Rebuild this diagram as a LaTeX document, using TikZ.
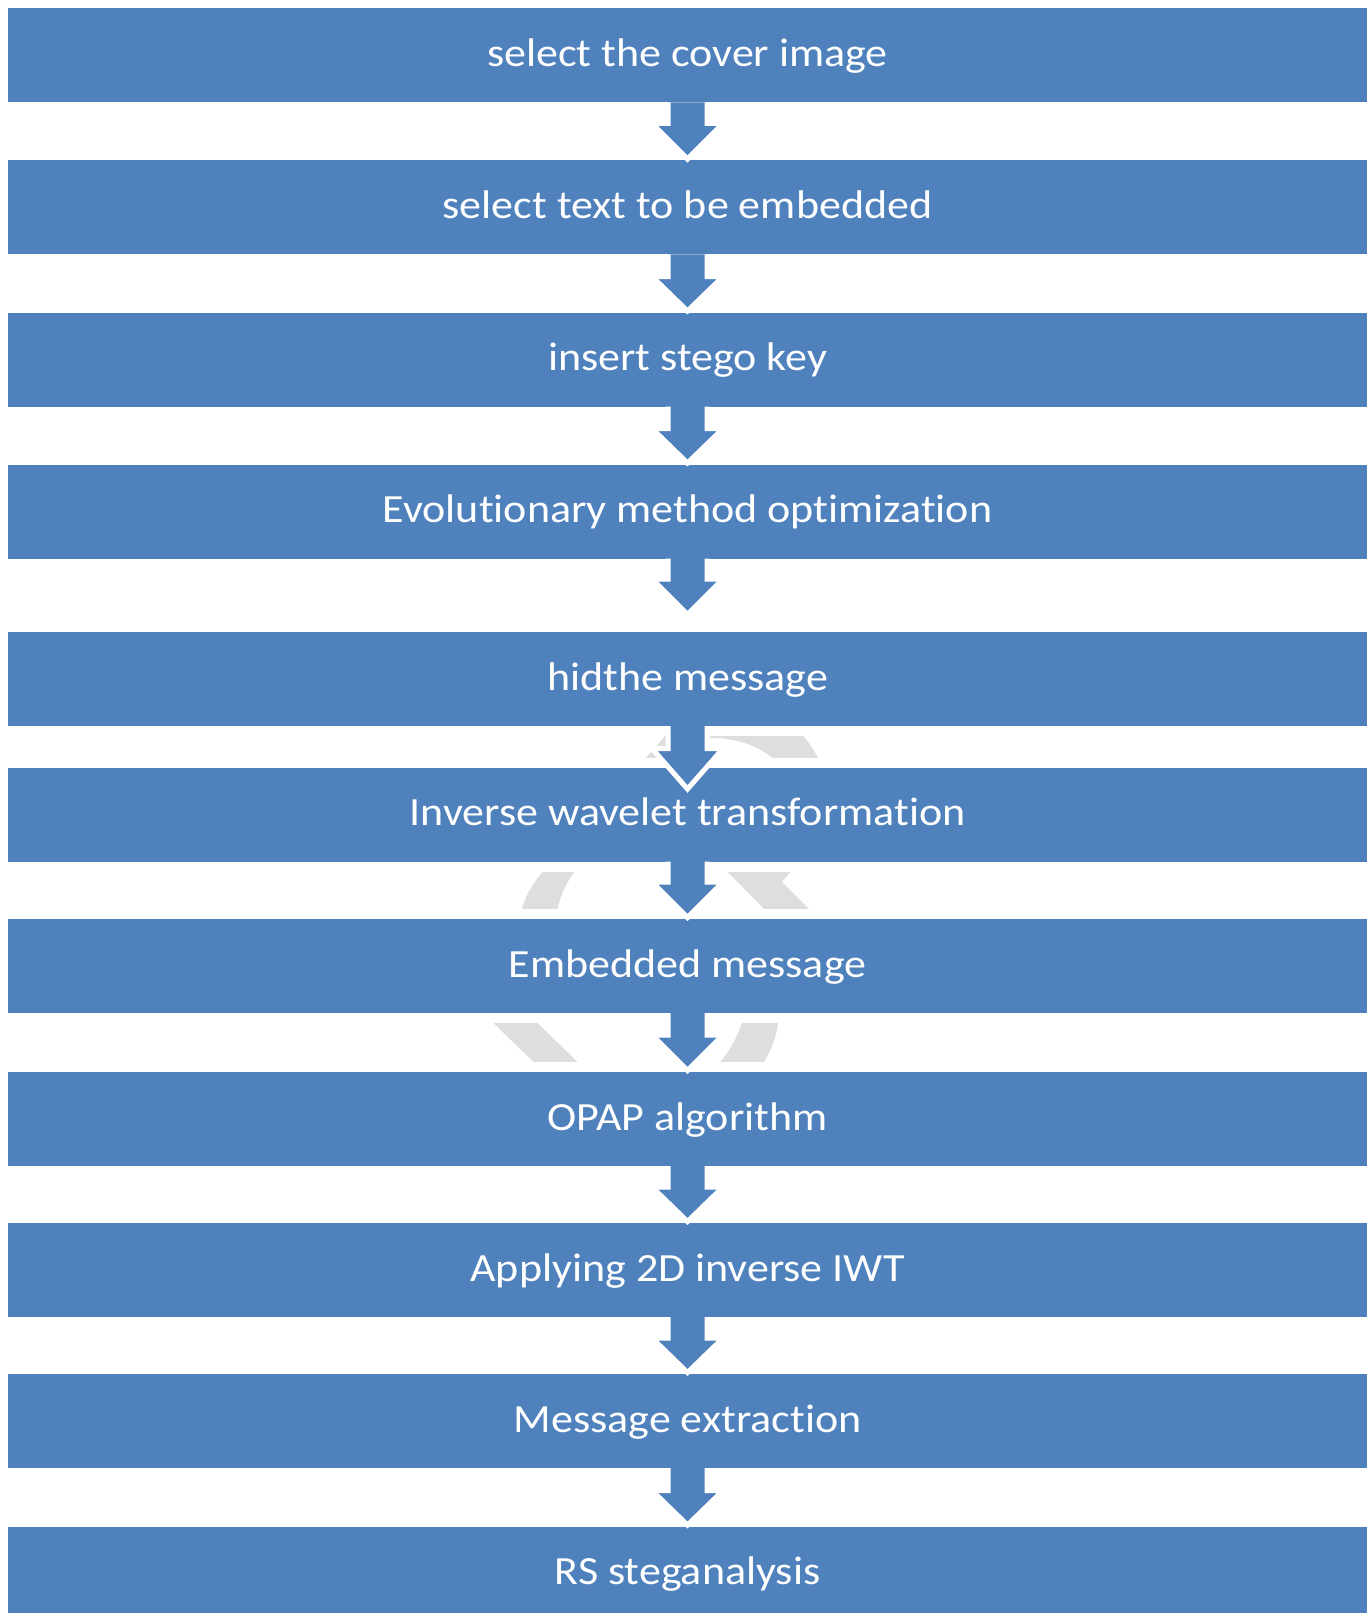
\documentclass[tikz,border=0pt]{standalone}
\usepackage{fontspec}
\newfontfamily\boxfont[FakeStretch=1.1,Ligatures=NoCommon]{Carlito}
\usetikzlibrary{calc}
\definecolor{boxblue}{RGB}{79,129,189}
\definecolor{ghost}{RGB}{222,222,222}
\tikzset{
  stepbox/.style={fill=boxblue, draw=white, line width=10pt, minimum width=1369pt,
    minimum height=104pt, inner sep=0pt, outer sep=0pt, text=white,
    font=\boxfont\fontsize{40}{48}\selectfont, text height=29pt, text depth=7pt},
  flowarr/.style={fill=boxblue, draw=white, line width=5pt, line join=miter},
  ghostshape/.style={fill=ghost, draw=none}
}
\newcommand\flowarrow[4]{%
  \filldraw[flowarr] let \p1=([yshift=5pt]#1.south), \p2=([yshift=#3]#2.north) in
  (\x1-19.5pt,\y1) -- (\x1-19.5pt,\y2+#4) -- (\x1-35.5pt,\y2+#4) -- (\x1,\y2)
  -- (\x1+35.5pt,\y2+#4) -- (\x1+19.5pt,\y2+#4) -- (\x1+19.5pt,\y1);
}
\begin{document}
\begin{tikzpicture}[x=1pt,y=-1pt]
\useasboundingbox (0,0) rectangle (1371,1613);
\fill[white] (0,0) rectangle (1371,1613);
% background cycle icon fragments
\fill[ghostshape] (638,767) -- (675,725) -- (690,725) -- (690,767) -- cycle;
\fill[ghostshape] (705,727) -- (795,727) .. controls (808,740) and (816,752) .. (822,767)
  -- (782,767) .. controls (765,748) and (740,738) .. (712,738) -- (705,738) -- cycle;
\fill[ghostshape] (557,858) .. controls (537,875) and (523,895) .. (519,922)
  -- (555,922) .. controls (558,898) and (568,875) .. (587,858) -- cycle;
\fill[ghostshape] (714,858) -- (802,858) -- (782,882) -- (822,922) -- (777,922) -- cycle;
\fill[ghostshape] (478,1008) -- (522,1008) -- (593,1077) -- (549,1077) -- cycle;
\fill[ghostshape] (779,1008) .. controls (779,1035) and (770,1058) .. (752,1077)
  -- (706,1077) .. controls (728,1057) and (740,1035) .. (746,1008) -- cycle;
\fill[ghostshape] (640,1172) .. controls (645,1177) and (652,1177) .. (656,1173)
  .. controls (651,1175) and (645,1175) .. (640,1172) -- cycle;
% boxes
\node[stepbox] (b1) at (687.5,55.5) {select the cover image};
\node[stepbox] (b2) at (687.5,207.5) {select text to be embedded};
\node[stepbox] (b3) at (687.5,359.5) {insert stego key};
\node[stepbox] (b4) at (687.5,511.5) {Evolutionary method optimization};
\node[stepbox] (b5) at (687.5,679) {hidthe message};
\node[stepbox] (b6) at (687.5,814.5) {Inverse wavelet transformation};
\node[stepbox] (b7) at (687.5,966) {Embedded message};
\node[stepbox] (b8) at (687.5,1119) {OPAP algorithm};
\node[stepbox] (b9) at (687.5,1270) {Applying 2D inverse IWT};
\node[stepbox] (b10) at (687.5,1421) {Message extraction};
\node[stepbox] (b11) at (687.5,1573.5) {RS steganalysis};
% arrows
\flowarrow{b1}{b2}{-3.5pt}{35.5pt}
\flowarrow{b2}{b3}{-3.5pt}{34.5pt}
\flowarrow{b3}{b4}{-3.5pt}{34.5pt}
\flowarrow{b4}{b5}{12.5pt}{35.5pt}
\flowarrow{b5}{b6}{-26.5pt}{40.5pt}
\flowarrow{b6}{b7}{-3.5pt}{35.5pt}
\flowarrow{b7}{b8}{-3.5pt}{35.5pt}
\flowarrow{b8}{b9}{-3.5pt}{34.5pt}
\flowarrow{b9}{b10}{-3.5pt}{34.5pt}
\flowarrow{b10}{b11}{-3.5pt}{34.5pt}
\end{tikzpicture}
\end{document}
